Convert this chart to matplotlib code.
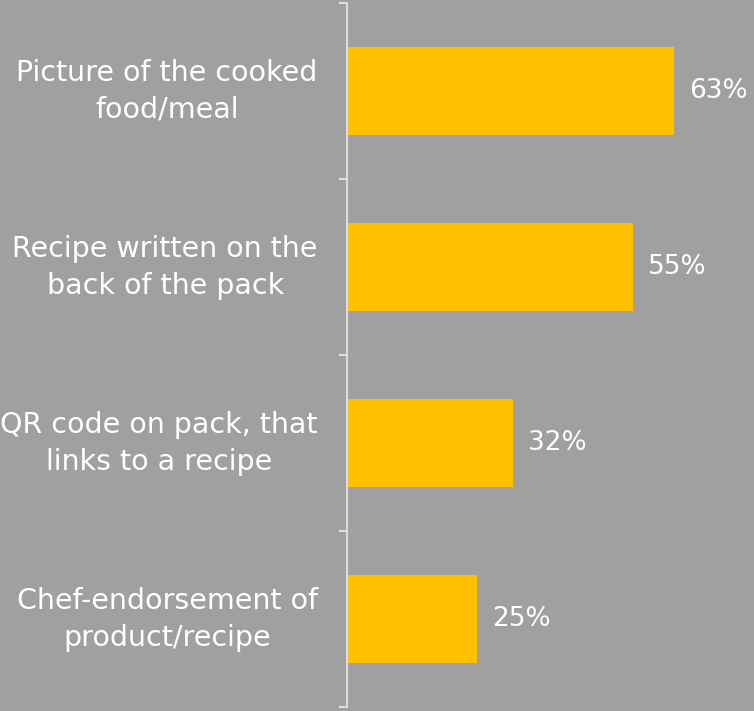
import matplotlib.pyplot as plt
import matplotlib.transforms as mtransforms
import numpy as np

categories = [
    "Picture of the cooked\nfood/meal",
    "Recipe written on the\nback of the pack",
    "QR code on pack, that\nlinks to a recipe",
    "Chef-endorsement of\nproduct/recipe",
]
values = [63, 55, 32, 25]

BG = "#a0a0a0"
BAR = "#ffc000"
AXIS = "#dcdcdc"

plt.rcParams["font.family"] = ["DejaVu Sans"]

fig = plt.figure(figsize=(7.54, 7.11), dpi=100, facecolor=BG)
ax = fig.add_axes([347 / 754, 4 / 711, 1 - 347 / 754, 704 / 711])
ax.set_facecolor(BG)

y = np.arange(len(categories))
ax.barh(y, values, height=0.5, color=BAR)
for yi, v in zip(y, values):
    ax.text(v + 2.9, yi, f"{v}%", va="center", ha="left", color="white", fontsize=19)

ax.set_xlim(0, 78.3)
ax.set_ylim(len(categories) - 0.5, -0.5)

ax.set_yticks(y)
ax.set_yticklabels(categories, multialignment="center", linespacing=1.4)
ax.tick_params(axis="y", which="major", length=0, pad=21, labelsize=20.5, labelcolor="white")
ax.set_yticks(np.arange(-0.5, len(categories)), minor=True)
ax.tick_params(axis="y", which="minor", length=6, width=1.5, color=AXIS)
ax.set_xticks([])

# nudge the two-line category labels up a little
shift = mtransforms.ScaledTranslation(0, 7 / 100, fig.dpi_scale_trans)
for lbl in ax.get_yticklabels():
    lbl.set_transform(lbl.get_transform() + shift)

for side in ["top", "right", "bottom"]:
    ax.spines[side].set_visible(False)
ax.spines["left"].set_color(AXIS)
ax.spines["left"].set_linewidth(1.5)

fig.savefig("out.png", dpi=100, facecolor=BG)
